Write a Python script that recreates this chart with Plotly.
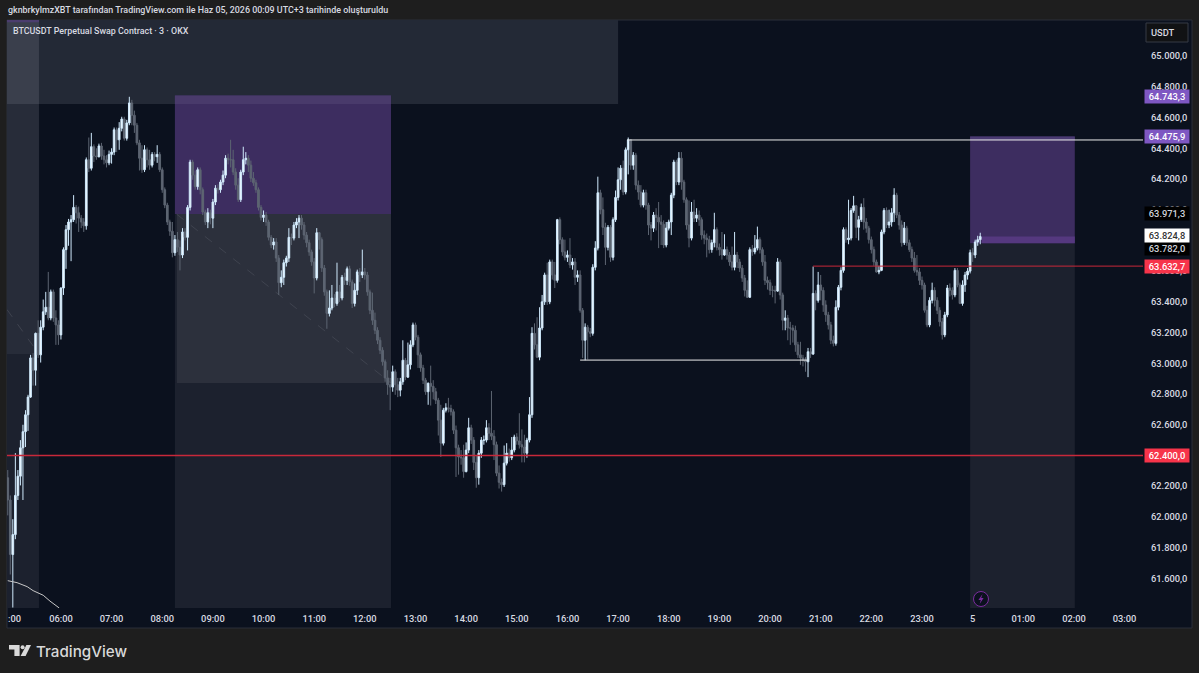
import pandas as pd
import plotly.graph_objects as go

# BTCUSDT perpetual, 3-minute candles on OKX, 4 June 04:57 to 5 June 00:09
first_time = "2026-06-04 04:57"
first_open = 62255
closes = [
62110,61755,61885,62140,62265,62450,62555,62665,62780,63035,62955,63195,63055,63235,63335,63365,63295,63465,63295,63250,
63185,63490,63740,63870,63920,63935,64015,63980,63945,63920,63895,64325,64270,64410,64350,64345,64415,64350,64325,64305,
64360,64375,64520,64455,64530,64590,64465,64565,64695,64615,64550,64435,64335,64260,64390,64325,64290,64360,64345,64360,
64260,64130,64030,63920,63860,63720,63805,63755,63705,63855,63820,64015,64310,64225,64150,64260,64130,63985,63920,63980,
63945,64050,64140,64130,64180,64225,64335,64325,64325,64245,64160,64065,64245,64325,64335,64290,64205,64175,64130,64015,
63950,63965,63920,63820,63770,63790,63685,63525,63560,63655,63685,63820,63815,63900,63920,63945,63900,63835,63785,63725,
63660,63555,63850,63805,63620,63465,63325,63360,63425,63390,63465,63425,63560,63540,63615,63530,63390,63475,63595,63575,
63595,63575,63465,63345,63280,63215,63150,63085,63010,62905,62860,62845,62945,62860,62825,62880,63020,62910,62990,63120,
63250,63170,63055,62970,62890,62815,62870,62850,62815,62760,62630,62480,62695,62710,62705,62685,62565,62450,62390,62385,
62295,62435,62580,62500,62355,62255,62415,62500,62500,62580,62545,62525,62470,62285,62225,62210,62350,62415,62385,62435,
62520,62495,62470,62455,62415,62500,62665,63195,63120,63040,63230,63400,63575,63400,63660,63575,63540,63935,63805,63725,
63690,63705,63640,63660,63560,63575,63345,63150,63235,63205,63195,63625,63750,64110,64000,63885,63755,63885,63690,63935,
64080,64195,64270,64115,64390,64455,64290,64355,64160,64115,64030,64110,64030,63900,63880,63965,63950,63920,63905,63770,
63880,63920,64095,64310,64180,64335,64180,64065,63900,63815,63985,63945,63965,63935,63835,63815,63805,63740,63785,63870,
63755,63740,63705,63740,63705,63660,63625,63705,63660,63620,63555,63475,63430,63740,63725,63750,63805,63740,63660,63540,
63525,63475,63475,63470,63660,63445,63280,63295,63230,63230,63215,63120,63055,63035,63020,63010,63075,63060,63455,63410,
63510,63475,63380,63315,63250,63150,63130,63365,63495,63605,63870,63805,63815,63995,64025,63885,63935,64015,63920,63880,
63805,63740,63660,63595,63605,63855,63995,63900,63920,63980,64095,63965,63900,63785,63880,63785,63740,63685,63605,63595,
63540,63510,63345,63250,63410,63475,63410,63345,63270,63185,63315,63490,63475,63445,63605,63510,63390,63510,63575,63600,
63720,63705,63790,63805,63825,
]
upper_wicks = [
50,30,100,275,40,50,45,30,15,20,30,5,85,45,80,100,230,15,15,50,
30,5,15,30,20,30,80,15,40,20,25,15,145,90,15,50,15,20,40,30,
25,25,15,15,40,15,15,20,40,20,30,15,20,85,30,15,65,15,15,60,
15,15,15,15,15,60,30,50,45,25,25,15,15,15,30,15,15,15,15,30,
20,20,20,25,15,30,20,30,130,65,25,45,15,85,40,20,30,40,20,15,
15,30,20,15,15,25,25,20,45,20,15,60,25,20,25,20,20,20,20,20,
15,25,30,5,15,20,15,115,85,25,190,45,15,30,15,20,15,45,15,25,
145,25,20,15,115,50,20,20,20,15,50,45,40,15,45,25,130,15,145,30,
15,15,15,15,20,15,5,115,40,25,15,100,15,30,65,25,15,30,20,45,
85,50,65,20,20,45,20,20,30,50,30,275,40,20,50,25,115,65,30,85,
15,25,180,100,80,15,115,40,65,180,135,45,15,80,15,15,85,5,15,15,
80,30,110,25,25,30,30,15,25,15,25,20,45,105,20,80,30,15,15,15,
45,80,20,50,15,15,5,20,15,30,45,20,20,15,20,20,45,100,45,25,
40,15,15,15,15,40,40,15,15,160,65,80,45,30,15,30,30,25,20,110,
15,25,115,100,20,20,100,150,20,20,20,20,65,15,30,85,85,15,15,45,
25,20,30,30,25,15,15,50,20,40,20,30,20,85,20,20,25,25,175,20,
85,65,20,30,20,20,30,45,15,20,15,15,250,15,65,5,25,25,60,25,
15,20,20,15,30,15,15,20,80,30,45,15,20,30,40,15,20,20,40,100,
25,25,15,30,20,50,20,20,20,25,20,20,30,20,15,15,15,30,20,20,
20,30,15,25,25,
]
lower_wicks = [
100,130,345,30,30,60,340,100,105,5,100,100,20,50,20,20,15,15,25,130,
65,30,45,125,105,255,15,70,90,40,40,25,25,15,40,20,5,25,30,30,
15,60,20,80,65,20,15,15,15,65,50,15,80,20,15,50,30,15,30,40,
15,20,20,20,30,30,20,30,100,20,20,85,20,30,20,20,30,20,20,40,
40,65,20,25,20,20,20,30,50,20,30,15,15,20,30,45,25,20,20,20,
20,30,25,20,20,30,25,80,30,50,25,25,45,15,20,105,30,30,30,25,
25,100,15,65,25,25,100,20,15,25,15,25,15,30,30,25,30,20,30,45,
20,30,25,25,30,25,25,25,25,25,65,150,30,65,45,40,20,20,5,30,
15,20,85,25,25,20,85,125,50,25,100,90,15,15,25,25,25,190,115,45,
40,5,20,25,50,65,45,30,30,15,45,25,100,20,40,45,15,15,25,15,
15,25,25,100,60,30,15,20,30,5,20,15,20,20,15,30,50,15,30,25,
20,30,20,30,50,30,15,115,130,180,25,15,20,15,30,50,115,20,30,20,
15,20,65,20,15,160,30,30,30,50,15,15,30,65,80,25,85,170,135,20,
15,15,85,20,20,20,50,20,30,60,15,25,25,40,30,40,115,25,20,30,
20,40,30,5,30,25,20,20,40,25,25,40,5,5,25,15,15,25,25,30,
45,30,45,80,5,30,65,65,80,110,80,45,20,45,40,65,100,25,5,65,
15,65,45,45,30,25,20,15,20,20,15,20,30,15,15,70,85,15,50,30,
25,25,25,5,15,5,15,20,20,30,60,20,30,25,15,20,15,25,15,25,
30,30,15,15,15,20,40,25,30,30,15,15,40,30,15,15,5,15,45,30,
15,45,20,25,30,
]

# Slow indicator line running off the bottom of the pane
curve_times = ["2026-06-04 04:57", "2026-06-04 05:08", "2026-06-04 05:20", "2026-06-04 05:27",
               "2026-06-04 05:39", "2026-06-04 05:47", "2026-06-04 05:58"]
curve_values = [61585, 61572, 61546, 61520, 61490, 61452, 61407]

# Axis labels
hour_ticks = ["2026-06-04 %02d:00" % h for h in range(6, 24)] + ["2026-06-05 %02d:00" % h for h in range(0, 4)]
hour_labels = ["%02d:00" % h for h in range(6, 24)] + ["5", "01:00", "02:00", "03:00"]
price_ticks = [61600 + 200 * k for k in range(18)]
price_labels = [f"{p // 1000}.{p % 1000:03d},0" for p in price_ticks]

# Price tags in the scale column: text, centre row in the pane, fill, text colour
price_tags = [
    ("64.743,3", 96, "#7e57c2", "#ffffff"),
    ("64.475,9", 136.7, "#7e57c2", "#ffffff"),
    ("63.971,3", 213, "#000000", "#d1d4dc"),
    ("63.782,0", 248, "#000000", "#d1d4dc"),
    ("63.824,8", 236, "#ffffff", "#333333"),
    ("63.632,7", 266.5, "#f7344a", "#ffffff"),
    ("62.400,0", 455.5, "#f7344a", "#ffffff"),
]

D1 = "2026-06-04 "
D2 = "2026-06-05 "
VIEW_START, VIEW_END = D1 + "04:56:06", D2 + "03:21:48"
PRICE_LOW, PRICE_HIGH = 61407, 65235

BG = "#1e1e1e"
PANE = "#0b111e"
LEFT, TOP, RIGHT, BOTTOM = 7, 20, 1143, 608
TEXT = "#d8dae1"
FONT = "Roboto, sans-serif"
LABEL_SIZE = 9.3


def px(x):
    return (x - LEFT) / (RIGHT - LEFT)


def py(y):
    return (BOTTOM - y) / (BOTTOM - TOP)


def zone(t0, t1, p0, p1, color):
    return dict(type="rect", xref="x", yref="y", x0=t0, x1=t1, y0=p0, y1=p1,
                fillcolor=color, line_width=0, layer="below")


def level(t0, t1, price, color, width=1.0):
    return dict(type="line", xref="x", yref="y", x0=t0, x1=t1, y0=price, y1=price,
                line=dict(color=color, width=width), layer="above")


def screen_path(points, color):
    d = "M " + " L ".join(f"{px(x):.5f},{py(y):.5f}" for x, y in points) + " Z"
    return dict(type="path", xref="paper", yref="paper", path=d, fillcolor=color, line_width=0)


times = pd.date_range(first_time, periods=len(closes), freq="3min")
opens = [first_open] + closes[:-1]
highs = [max(o, c) + u for o, c, u in zip(opens, closes, upper_wicks, strict=True)]
lows = [min(o, c) - w for o, c, w in zip(opens, closes, lower_wicks, strict=True)]

fig = go.Figure()
fig.add_trace(go.Scatter(x=curve_times, y=curve_values, mode="lines",
                         line=dict(color="#c8c8c8", width=1), hoverinfo="skip"))
fig.add_trace(go.Candlestick(
    x=times, open=opens, high=highs, low=lows, close=closes,
    increasing=dict(line=dict(color="#cfe9fc", width=1), fillcolor="#f2faff"),
    decreasing=dict(line=dict(color="#5d6572", width=1), fillcolor="#5d6572"),
    whiskerwidth=0,
))

shapes = [
    # Pane and scale background, with a thin frame
    dict(type="rect", xref="paper", yref="paper", x0=px(LEFT), x1=px(1192), y0=py(628), y1=py(TOP),
         fillcolor=PANE, line=dict(color="#2a2e39", width=1), layer="below"),
    # Short position carried over from earlier, left edge
    zone(VIEW_START, D1 + "05:34", 63060, PRICE_HIGH, "#272c39"),
    zone(VIEW_START, D1 + "05:34", PRICE_LOW, 63060, "#1c212e"),
    zone(VIEW_START, D1 + "17:00", 64688, PRICE_HIGH, "#232936"),
    zone(VIEW_START, D1 + "05:34", 64688, PRICE_HIGH, "#3a3f4c"),
    zone(VIEW_START, D1 + "05:34", 65220, PRICE_HIGH, "#4b3d6e"),
    # Morning short setup
    zone(D1 + "08:15", D1 + "12:31", PRICE_LOW, 62872, "#1c212e"),
    zone(D1 + "08:15", D1 + "08:17", 62872, 63971.3, "#1c212e"),
    zone(D1 + "08:17", D1 + "12:31", 62872, 63971.3, "#2c303c"),
    zone(D1 + "08:15", D1 + "12:31", 63971.3, 64743.3, "#3d2d60"),
    zone(D1 + "08:15", D1 + "12:31", 64688, 64743.3, "#493a6b"),
    # Open short setup on the right
    zone(D1 + "23:57", D2 + "02:01", PRICE_LOW, 63782, "#1c212e"),
    zone(D1 + "23:57", D2 + "02:01", 63782, 64475.9, "#3d2d60"),
    zone(D2 + "00:11", D2 + "02:01", 63782, 63825, "#55387f"),
    zone(D1 + "23:57", D2 + "02:01", 64454, 64475.9, "#4a3a72"),
    # Dashed diagonals of the position tools
    dict(type="line", xref="x", yref="y", x0=D1 + "08:17", x1=D1 + "12:31", y0=63971.3, y1=62872,
         line=dict(color="#3f434f", width=1, dash="dash"), layer="below"),
    dict(type="line", xref="x", yref="y", x0=VIEW_START, x1=D1 + "05:34", y0=63350, y1=63060,
         line=dict(color="#3f434f", width=1, dash="dash"), layer="below"),
    # Horizontal levels
    level(D1 + "17:11", VIEW_END, 64454, "#ececec"),
    level(D1 + "16:15", D1 + "20:44", 63021, "#ececec"),
    level(D1 + "20:51", VIEW_END, 63632.7, "#c8283a"),
    level(VIEW_START, VIEW_END, 62400, "#c8283a", 1.4),
    # Currency button
    dict(type="rect", xref="paper", yref="paper", x0=px(1146), x1=px(1188), y0=py(42), y1=py(23),
         fillcolor="#111214", line=dict(color="#363a45", width=1)),
    # Alert badge near the time scale
    dict(type="circle", xref="paper", yref="paper", x0=px(973.5), x1=px(988.5), y0=py(606.5), y1=py(591.5),
         fillcolor=PANE, line=dict(color="#7b2c9e", width=1)),
    screen_path([(982.6, 594), (978.4, 600), (980.8, 600), (979.6, 604), (983.6, 598), (981.2, 598)], "#7b2c9e"),
    # TradingView mark
    screen_path([(9, 645), (19.6, 645), (19.6, 656), (14.4, 656), (14.4, 649.4), (9, 649.4)], "#d9d9d9"),
    screen_path([(26.4, 645), (31, 645), (25.6, 656), (20.6, 656)], "#d9d9d9"),
    dict(type="circle", xref="paper", yref="paper", x0=px(20.6), x1=px(24.6), y0=py(649.2), y1=py(645.2),
         fillcolor="#d9d9d9", line_width=0),
]

annotations = [
    dict(text="gknbrkylmzXBT tarafından TradingView.com ile Haz 05, 2026 00:09 UTC+3 tarihinde oluşturuldu",
         x=px(5.5), y=py(10), font=dict(size=8.9, color=TEXT, family=FONT, weight=500), xanchor="left"),
    dict(text="BTCUSDT Perpetual Swap Contract · 3 · OKX",
         x=px(11), y=py(30.5), font=dict(size=8.9, color=TEXT, family=FONT, weight=500), xanchor="left"),
    dict(text=":00", x=px(5.5), y=py(618), font=dict(size=LABEL_SIZE, color=TEXT, family=FONT, weight=500),
         xanchor="left"),
    dict(text="USDT", x=px(1163), y=py(32.5), font=dict(size=LABEL_SIZE, color=TEXT, family=FONT, weight=500),
         xanchor="center"),
    dict(text="TradingView", x=px(34), y=py(651),
         font=dict(size=15.2, color="#d9d9d9", family="Inter, sans-serif", weight=500), xanchor="left"),
]
for label, row, fill, ink in price_tags:
    annotations.append(dict(text=label, x=px(1144), y=py(row), xanchor="left", width=44, height=13,
                            align="center", bgcolor=fill, borderpad=0,
                            font=dict(size=LABEL_SIZE, color=ink, family=FONT, weight=500)))
for a in annotations:
    a.update(xref="paper", yref="paper", showarrow=False, yanchor="middle")

tick_font = dict(size=LABEL_SIZE, color=TEXT, family=FONT, weight=500)
fig.update_layout(
    width=1199, height=673,
    margin=dict(l=LEFT, r=1199 - RIGHT, t=TOP, b=673 - BOTTOM, pad=0),
    paper_bgcolor=BG, plot_bgcolor=PANE,
    showlegend=False, shapes=shapes, annotations=annotations,
    font=dict(family=FONT, color=TEXT, size=10),
    boxgap=0.05,
    xaxis=dict(range=[VIEW_START, VIEW_END], type="date", rangeslider=dict(visible=False),
               tickmode="array", tickvals=hour_ticks, ticktext=hour_labels,
               showgrid=False, zeroline=False, ticks="", ticklabelstandoff=4, tickfont=tick_font),
    yaxis=dict(range=[PRICE_LOW, PRICE_HIGH], side="right", tickmode="array",
               tickvals=price_ticks, ticktext=price_labels,
               showgrid=False, zeroline=False, ticks="", ticklabelstandoff=7, tickfont=tick_font),
)

fig.write_html("out.html", config=dict(displayModeBar=False))
